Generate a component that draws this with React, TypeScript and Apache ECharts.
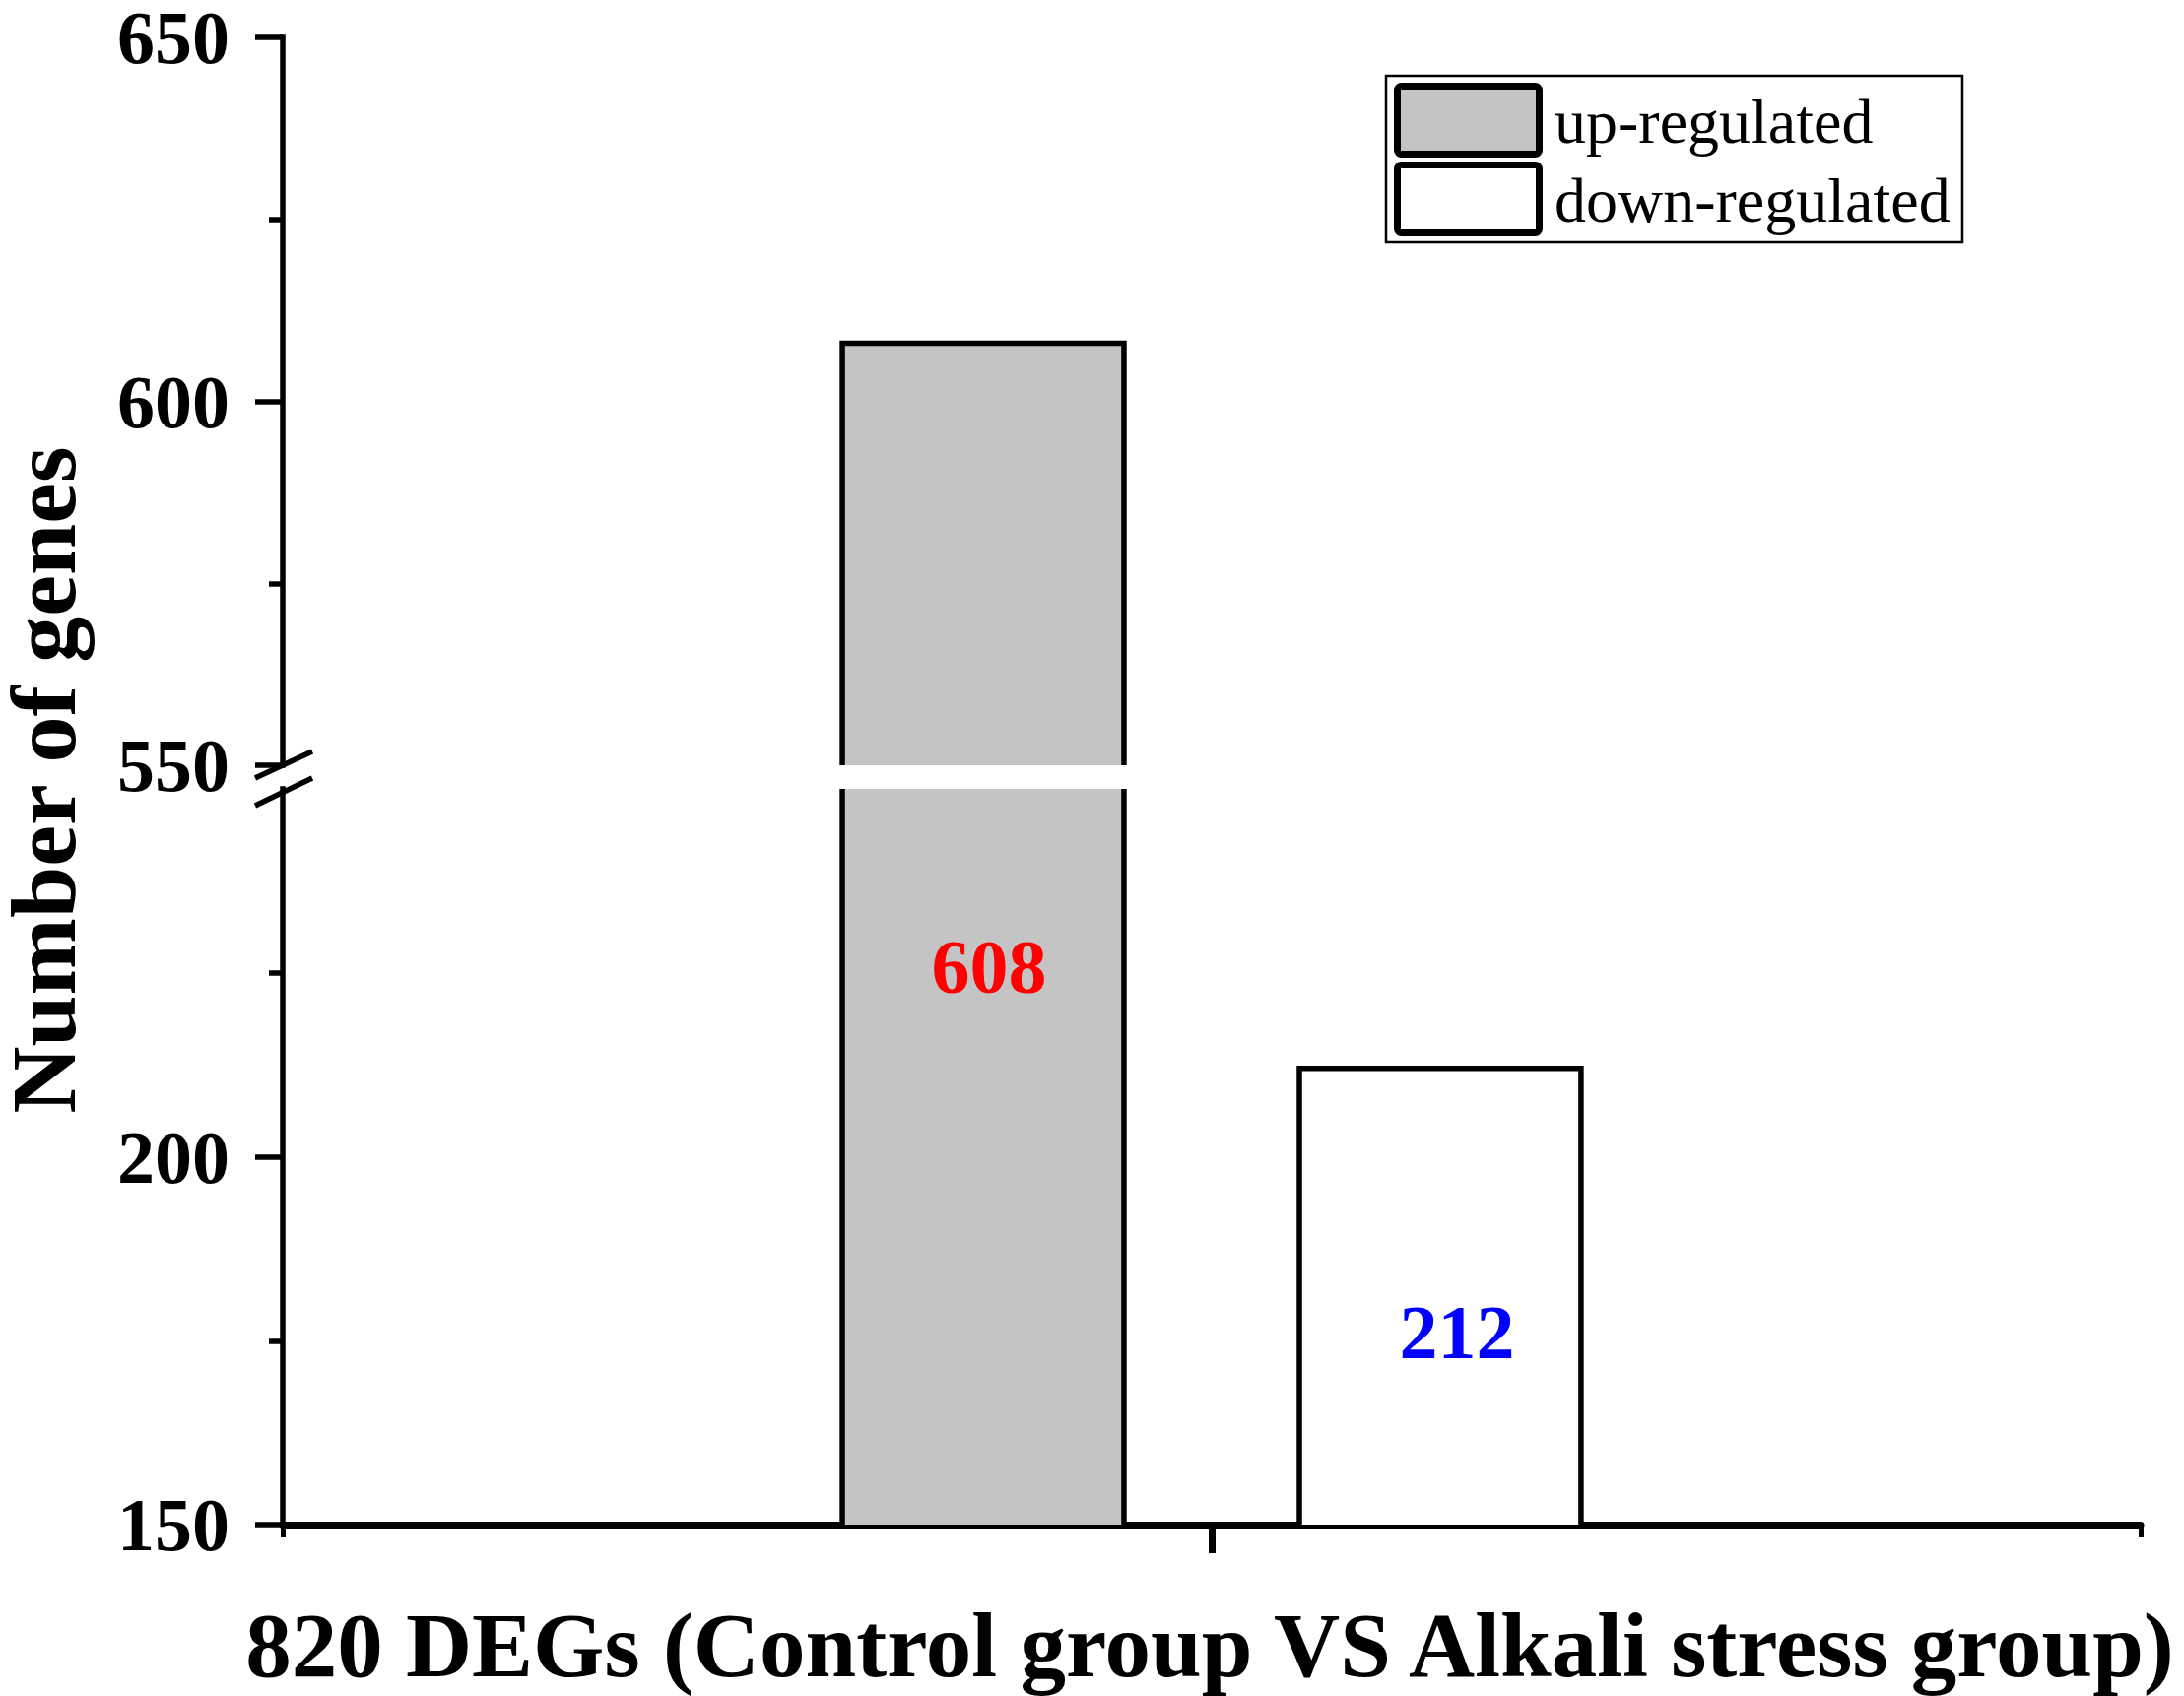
import React, { useEffect, useRef } from "react";
import * as echarts from "echarts";

// ---- data ----
const groupLabels = ["820 DEGs (Control group VS Alkali stress group)"];
const seriesNames = ["up-regulated", "down-regulated"];
const seriesValues = [608, 212];
const upperRange = [550, 650];
const lowerRange = [150, 250];
const upperTicks = [550, 600, 650];
const lowerTicks = [150, 200];
const yTitle = "Number of genes";

// ---- style / layout ----
const W = 2217;
const H = 1722;
const FONT = '"Liberation Serif", "Times New Roman", serif';
const fills = ["#c4c4c4", "#ffffff"];
const labelColors = ["#ff0000", "#0000ff"];
const labelAnchor = [225.8, 176.2]; // label vertical anchor (axis units)
const labelDx = [6, 17];
const BAR_FRAC = 0.1516;
const GAP_FRAC = 0.0944;
const GRID_LEFT = 287;
const GRID_RIGHT = W - 2173;
const UP_TOP = 29;
const UP_BOTTOM = 777;
const LOW_TOP = 801;
const LOW_BOTTOM = 1548;
const BAR_LW = 5.5;
const Y_LW = 5.5;
const X_LW = 7;

function makeRender(idx: number, withLabel: boolean) {
  return (params: any, api: any) => {
    const v = api.value(1);
    const cs = params.coordSys;
    const yBase = cs.y + cs.height;
    const pt = api.coord([api.value(0), v]);
    const band = api.size([1, 0])[0];
    const bw = band * BAR_FRAC;
    const cx = pt[0] + (idx === 0 ? -1 : 1) * (band * (BAR_FRAC + GAP_FRAC)) / 2;
    const x0 = cx - bw / 2;
    const x1 = cx + bw / 2;
    const children: any[] = [];
    if (pt[1] < yBase) {
      const clipped = pt[1] < cs.y;
      const yTop = clipped ? cs.y : pt[1];
      children.push({
        type: "rect",
        shape: { x: x0, y: yTop, width: bw, height: yBase - yTop },
        style: { fill: fills[idx], stroke: "none" },
      });
      if (clipped) {
        children.push({
          type: "line",
          shape: { x1: x0, y1: yBase, x2: x0, y2: yTop },
          style: { stroke: "#000", lineWidth: BAR_LW },
        });
        children.push({
          type: "line",
          shape: { x1: x1, y1: yBase, x2: x1, y2: yTop },
          style: { stroke: "#000", lineWidth: BAR_LW },
        });
      } else {
        children.push({
          type: "polyline",
          shape: {
            points: [
              [x0, yBase],
              [x0, yTop],
              [x1, yTop],
              [x1, yBase],
            ],
          },
          style: { stroke: "#000", lineWidth: BAR_LW, fill: "none", lineJoin: "miter" },
        });
      }
    }
    if (withLabel) {
      const ly = api.coord([api.value(0), labelAnchor[idx]])[1];
      children.push({
        type: "text",
        x: cx + labelDx[idx],
        y: ly,
        style: {
          text: String(v),
          fill: labelColors[idx],
          font: `bold 78px ${FONT}`,
          align: "center",
          verticalAlign: "middle",
        },
      });
    }
    return { type: "group", children };
  };
}

export default function App() {
  const ref = useRef<HTMLDivElement>(null);
  useEffect(() => {
    document.body.style.margin = "0";
    if (!ref.current) return;
    const chart = echarts.init(ref.current, undefined, { renderer: "svg" });

    const yAxisCommon = (range: number[], ticks: number[], gridIndex: number) => ({
      type: "value",
      gridIndex,
      min: range[0],
      max: range[1],
      interval: 50,
      splitLine: { show: false },
      axisLine: { show: true, lineStyle: { color: "#000", width: Y_LW, cap: "square" } },
      axisTick: {
        show: true,
        inside: false,
        length: 28,
        customValues: ticks,
        lineStyle: { color: "#000", width: Y_LW },
      },
      minorTick: { show: true, splitNumber: 2, length: 14, lineStyle: { color: "#000", width: Y_LW } },
      axisLabel: {
        show: true,
        customValues: ticks,
        margin: 54,
        color: "#000",
        fontSize: 76,
        fontWeight: "bold",
        fontFamily: FONT,
      },
    });

    const series: any[] = [];
    seriesNames.forEach((name, i) => {
      series.push({
        type: "custom",
        name,
        xAxisIndex: 0,
        yAxisIndex: 0,
        data: [[0, seriesValues[i]]],
        renderItem: makeRender(i, false),
        encode: { x: 0, y: 1 },
      });
      series.push({
        type: "custom",
        name,
        xAxisIndex: 1,
        yAxisIndex: 1,
        data: [[0, seriesValues[i]]],
        renderItem: makeRender(i, true),
        encode: { x: 0, y: 1 },
      });
    });

    const legendBox = { x: 1407, y: 77, w: 585, h: 169 };
    const legendItems = seriesNames.map((name, i) => ({
      type: "group",
      children: [
        {
          type: "rect",
          shape: { x: 1418.5, y: 87.5 + i * 80, width: 144, height: 69, r: 4 },
          style: { fill: fills[i], stroke: "#000", lineWidth: 7 },
        },
        {
          type: "text",
          x: 1578,
          y: 123 + i * 80,
          style: {
            text: name,
            fill: "#000",
            font: `64px ${FONT}`,
            align: "left",
            verticalAlign: "middle",
          },
        },
      ],
    }));

    const option: any = {
      animation: false,
      backgroundColor: "#fff",
      grid: [
        { left: GRID_LEFT, right: GRID_RIGHT, top: UP_TOP, height: UP_BOTTOM - UP_TOP, containLabel: false },
        { left: GRID_LEFT, right: GRID_RIGHT, top: LOW_TOP, height: LOW_BOTTOM - LOW_TOP, containLabel: false },
      ],
      xAxis: [
        { type: "category", gridIndex: 0, data: groupLabels, show: false },
        {
          type: "category",
          gridIndex: 1,
          data: groupLabels,
          position: "bottom",
          axisLine: { show: true, lineStyle: { color: "#000", width: X_LW } },
          axisTick: { show: true, alignWithLabel: true, length: 29, lineStyle: { color: "#000", width: X_LW } },
          axisLabel: { show: false },
          splitLine: { show: false },
        },
        {
          type: "value",
          gridIndex: 1,
          min: 0,
          max: 1,
          interval: 1,
          position: "bottom",
          axisLine: { show: false },
          axisTick: { show: true, length: 13, lineStyle: { color: "#000", width: 5 } },
          axisLabel: { show: false },
          splitLine: { show: false },
        },
      ],
      yAxis: [yAxisCommon(upperRange, upperTicks, 0), yAxisCommon(lowerRange, lowerTicks, 1)],
      series,
      graphic: [
        // axis break marks
        {
          type: "line",
          shape: { x1: 259, y1: 790, x2: 317, y2: 763 },
          style: { stroke: "#000", lineWidth: 5.5 },
        },
        {
          type: "line",
          shape: { x1: 259, y1: 818, x2: 317, y2: 790 },
          style: { stroke: "#000", lineWidth: 5.5 },
        },
        // legend
        {
          type: "rect",
          shape: { x: legendBox.x, y: legendBox.y, width: legendBox.w, height: legendBox.h },
          style: { fill: "none", stroke: "#000", lineWidth: 2.5 },
        },
        ...legendItems,
        // axis titles
        {
          type: "text",
          x: 44,
          y: 792,
          rotation: Math.PI / 2,
          style: {
            text: yTitle,
            fill: "#000",
            font: `bold 94px ${FONT}`,
            align: "center",
            verticalAlign: "middle",
          },
        },
        {
          type: "text",
          x: 1228,
          y: 1670,
          style: {
            text: groupLabels[0],
            fill: "#000",
            font: `bold 93px ${FONT}`,
            align: "center",
            verticalAlign: "middle",
          },
        },
      ],
    };
    chart.setOption(option);
    return () => {
      chart.dispose();
    };
  }, []);
  return <div ref={ref} style={{ width: W, height: H }} />;
}
